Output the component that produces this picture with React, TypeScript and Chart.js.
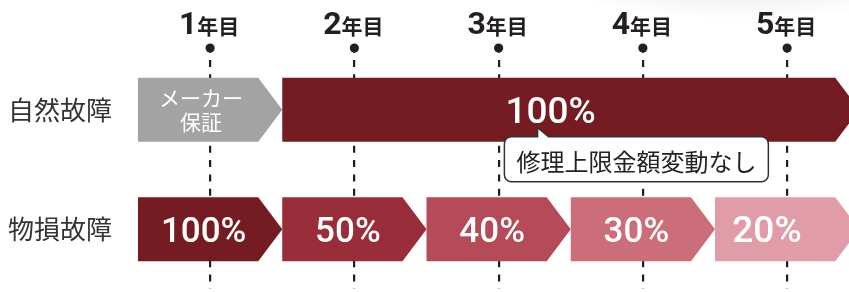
import React, { useEffect, useRef } from 'react';
import { Chart, registerables } from 'chart.js';

Chart.register(...registerables);

// ---- data ----
const rows = ['自然故障', '物損故障'];
const years = [1, 2, 3, 4, 5];
const yearSuffix = '年目';

// 自然故障: ranges on the year axis
const naturalRanges: [number, number][] = [
  [0.5, 1.5],
  [1.5, 5.5],
];
const naturalLabels = [['メーカー', '保証'], ['100%']];
const naturalColors = ['#a3a3a3', '#741c21'];

// 物損故障: coverage rate for each year
const damageRates = [100, 50, 40, 30, 20];
const damageColors = ['#741c21', '#992e3a', '#b54a58', '#cc6d7a', '#e09da9'];

const calloutText = '修理上限金額変動なし';

// ---- styling constants ----
const JP = '"Noto Sans CJK JP", "Noto Sans CJK SC", sans-serif';
const TIP = 24;

const damageRanges = years.map((y) => [y - 0.5, y + 0.5] as [number, number]);
const segCount = Math.max(naturalRanges.length, damageRanges.length);

const chevronPlugin = {
  id: 'chevrons',
  beforeDraw(chart: any) {
    const { ctx } = chart;
    ctx.save();
    ctx.translate(740, -14);
    ctx.scale(5, 1);
    const g = ctx.createRadialGradient(0, 0, 0, 0, 0, 34);
    g.addColorStop(0, 'rgba(0,0,0,0.08)');
    g.addColorStop(1, 'rgba(0,0,0,0)');
    ctx.fillStyle = g;
    ctx.fillRect(-60, -40, 120, 80);
    ctx.restore();
  },
  beforeDatasetsDraw(chart: any) {
    const { ctx, chartArea } = chart;
    ctx.save();
    ctx.beginPath();
    ctx.rect(chartArea.left, 0, chartArea.right - chartArea.left, chart.height);
    ctx.clip();
    chart.data.datasets.forEach((ds: any, i: number) => {
      const meta = chart.getDatasetMeta(i);
      meta.data.forEach((el: any, j: number) => {
        if (ds.data[j] == null) return;
        const { x, y, base, height } = el.getProps(['x', 'y', 'base', 'height'], true);
        const left = Math.min(x, base);
        const right = Math.max(x, base);
        const top = y - height / 2;
        const bottom = y + height / 2;
        ctx.beginPath();
        ctx.moveTo(left, top);
        ctx.lineTo(right - TIP, top);
        ctx.lineTo(right, y);
        ctx.lineTo(right - TIP, bottom);
        ctx.lineTo(left, bottom);
        ctx.closePath();
        ctx.fillStyle = ds.backgroundColor[j];
        ctx.fill();

        const lines: string[] | null = ds.texts[j];
        if (!lines) return;
        ctx.fillStyle = '#ffffff';
        ctx.textAlign = 'center';
        if (lines.length > 1) {
          const cx = (left + right - TIP) / 2 + 3;
          ctx.font = `400 21px ${JP}`;
          ctx.textBaseline = 'middle';
          ctx.fillText(lines[0], cx, y - 11.5);
          ctx.fillText(lines[1], cx, y + 12.5);
        } else {
          const clipped = right > chartArea.right;
          const cx = clipped
            ? (left + chartArea.right) / 2 - 15
            : (left + right - TIP) / 2 + 5.5;
          ctx.font = `500 ${clipped ? 37 : 35}px Roboto, sans-serif`;
          ctx.textBaseline = 'alphabetic';
          ctx.fillText(lines[0], cx, y + (clipped ? 13 : 12.5));
        }
      });
    });
    ctx.restore();
    return false;
  },
  afterDraw(chart: any) {
    const { ctx } = chart;
    const xs = chart.scales.x;
    ctx.save();
    // year labels and dots on the x axis ticks
    xs.ticks.forEach((t: any, i: number) => {
      const px = xs.getPixelForTick(i);
      const num = String(t.value);
      ctx.font = `700 32px Roboto, sans-serif`;
      const wNum = ctx.measureText(num).width;
      ctx.font = `700 21px ${JP}`;
      const wSuf = ctx.measureText(yearSuffix).width;
      const x0 = px - (wNum + wSuf) / 2 - 1;
      ctx.fillStyle = '#231f20';
      ctx.textAlign = 'left';
      ctx.textBaseline = 'alphabetic';
      ctx.font = `700 32px Roboto, sans-serif`;
      ctx.fillText(num, x0, 34);
      ctx.font = `700 21px ${JP}`;
      ctx.fillText(yearSuffix, x0 + wNum, 34);
      ctx.beginPath();
      ctx.arc(px, 48, 4.6, 0, Math.PI * 2);
      ctx.fill();
    });

    // callout under the 自然故障 bar
    const el = chart.getDatasetMeta(1).data[0];
    const { y, height } = el.getProps(['y', 'height'], true);
    const top = y + height / 2 - 5;
    const bottom = top + 45;
    const left = xs.getPixelForValue(3.04);
    const right = xs.getPixelForValue(4.87);
    const px0 = xs.getPixelForValue(3.27);
    const r = 7;
    ctx.beginPath();
    ctx.moveTo(left + r, top);
    ctx.lineTo(px0, top);
    ctx.lineTo(px0, top - 9);
    ctx.lineTo(px0 + 11, top);
    ctx.lineTo(right - r, top);
    ctx.arcTo(right, top, right, top + r, r);
    ctx.lineTo(right, bottom - r);
    ctx.arcTo(right, bottom, right - r, bottom, r);
    ctx.lineTo(left + r, bottom);
    ctx.arcTo(left, bottom, left, bottom - r, r);
    ctx.lineTo(left, top + r);
    ctx.arcTo(left, top, left + r, top, r);
    ctx.closePath();
    ctx.fillStyle = '#ffffff';
    ctx.fill();
    ctx.lineWidth = 1.5;
    ctx.strokeStyle = '#333333';
    ctx.stroke();
    ctx.fillStyle = '#222222';
    ctx.font = `400 24px ${JP}`;
    ctx.textAlign = 'center';
    ctx.textBaseline = 'middle';
    ctx.fillText(calloutText, (left + right) / 2, top + 25.5);
    ctx.restore();
  },
};

export default function App() {
  const ref = useRef<HTMLCanvasElement | null>(null);

  useEffect(() => {
    if (!ref.current) return;
    const datasets = Array.from({ length: segCount }, (_, k) => ({
      label: `seg${k + 1}`,
      data: [naturalRanges[k] ?? null, damageRanges[k] ?? null],
      backgroundColor: [naturalColors[k] ?? 'transparent', damageColors[k] ?? 'transparent'],
      texts: [
        naturalLabels[k] ?? null,
        damageRates[k] != null ? [`${damageRates[k]}%`] : null,
      ],
      grouped: false,
      barThickness: 64,
    }));

    const chart = new Chart(ref.current, {
      type: 'bar',
      data: { labels: rows, datasets: datasets as any },
      plugins: [chevronPlugin as any],
      options: {
        indexAxis: 'y',
        animation: false,
        responsive: false,
        maintainAspectRatio: false,
        devicePixelRatio: 1,
        events: [],
        layout: { padding: { left: 0, right: 0, top: 0, bottom: 3 } },
        plugins: { legend: { display: false }, tooltip: { enabled: false } },
        scales: {
          x: {
            type: 'linear',
            position: 'top',
            min: 0.5,
            max: 5.429,
            afterBuildTicks: (s: any) => {
              s.ticks = years.map((v) => ({ value: v }));
            },
            afterFit: (s: any) => {
              s.height = 50;
              s.paddingLeft = 0;
              s.paddingRight = 0;
            },
            ticks: { display: false },
            grid: {
              display: true,
              drawTicks: false,
              color: '#1e1e1e',
              lineWidth: 2.2,
            },
            border: { display: false, dash: [7, 7.3], dashOffset: 4.3 },
          },
          y: {
            type: 'category',
            afterFit: (s: any) => {
              s.width = 138;
              s.paddingTop = 0;
              s.paddingBottom = 0;
            },
            ticks: {
              color: '#333333',
              padding: 26,
              font: { family: JP, size: 26, weight: 'normal' },
            },
            grid: { display: false, drawTicks: false },
            border: { display: false },
          },
        },
      } as any,
    });
    return () => chart.destroy();
  }, []);

  return (
    <div style={{ position: 'fixed', left: 0, top: 0, width: 849, height: 292, background: '#fff' }}>
      <canvas ref={ref} width={849} height={292} style={{ display: 'block', width: 849, height: 292 }} />
    </div>
  );
}
